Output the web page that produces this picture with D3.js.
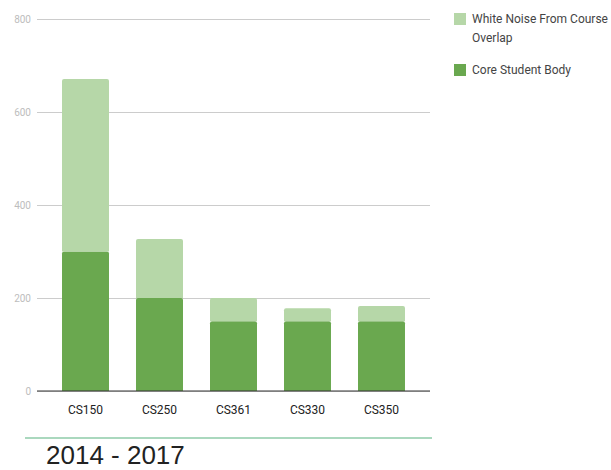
<!DOCTYPE html>
<html>
<head>
<meta charset="utf-8">
<script src="https://cdn.jsdelivr.net/npm/d3@7"></script>
<style>
  body { margin: 0; background: #fff; }
  svg { display: block; }
</style>
</head>
<body>
<div id="chart"></div>
<script>
var WIDTH = 611
var HEIGHT = 470

// data
var courses = ['CS150', 'CS250', 'CS361', 'CS330', 'CS350'];
var coreStudents = [300, 200, 150, 150, 150];
var whiteNoise = [371, 127, 50, 28, 33];
var yTicks = [0, 200, 400, 600, 800];
var seriesNames = ['White Noise From Course Overlap', 'Core Student Body'];
var seriesColors = ['#b6d7a8', '#6aa84f'];

var rows = courses.map((c, i) => ({ course: c, core: coreStudents[i], noise: whiteNoise[i] }));

const svg = d3.select('#chart').append('svg')
    .attr('width', WIDTH)
    .attr('height', HEIGHT);

let x = d3.scaleBand()
    .domain(courses)
    .range([37, 430])
    .paddingInner(0.365)
    .paddingOuter(0.338);

let y = d3.scaleLinear()
    .domain([0, 800])
    .range([391, 19]);

// gridlines + tick labels
var yAxis = svg.append('g')
    .attr('transform', 'translate(37,0)')
    .call(d3.axisLeft(y).tickValues(yTicks).tickSize(-393).tickPadding(6));
yAxis.select('.domain').remove();
yAxis.selectAll('line').attr('stroke', '#cccccc');
yAxis.selectAll('text')
    .attr('fill', '#bdbdbd')
    .style('font-family', 'Roboto')
    .style('font-size', '10px');

// stacked bars
var stack = d3.stack().keys(['core', 'noise'])(rows);
var colorOf = { core: seriesColors[1], noise: seriesColors[0] };

svg.selectAll('g.layer')
    .data(stack)
    .enter()
    .append('g')
    .attr('class', 'layer')
    .attr('fill', d => colorOf[d.key])
    .selectAll('path')
    .data(d => d)
    .enter()
    .append('path')
    .attr('d', d => {
        var x0 = x(d.data.course), w = x.bandwidth();
        var top = y(d[1]), bot = y(d[0]), r = 2;
        return 'M' + x0 + ',' + bot + 'V' + (top + r) + 'Q' + x0 + ',' + top + ' ' + (x0 + r) + ',' + top +
            'H' + (x0 + w - r) + 'Q' + (x0 + w) + ',' + top + ' ' + (x0 + w) + ',' + (top + r) + 'V' + bot + 'Z';
    });

// baseline
svg.append('line')
    .attr('x1', 37).attr('x2', 430)
    .attr('y1', y(0)).attr('y2', y(0))
    .attr('stroke', '#333333')
    .attr('stroke-width', 1);

// category labels
svg.append('g')
    .selectAll('text')
    .data(courses)
    .enter()
    .append('text')
    .attr('x', d => x(d) + x.bandwidth() / 2)
    .attr('y', 414)
    .attr('text-anchor', 'middle')
    .attr('fill', '#222222')
    .style('font-family', 'Roboto')
    .style('font-size', '12px')
    .text(d => d);

// legend
var legend = svg.append('g').attr('transform', 'translate(454,0)');
var legendRows = [
    { name: seriesNames[0], color: seriesColors[0], y: 13, lines: ['White Noise From Course', 'Overlap'] },
    { name: seriesNames[1], color: seriesColors[1], y: 64, lines: ['Core Student Body'] }
];
legendRows.forEach(item => {
    legend.append('rect')
        .attr('x', 0).attr('y', item.y)
        .attr('width', 12).attr('height', 12)
        .attr('fill', item.color);
    item.lines.forEach((t, j) => {
        legend.append('text')
            .attr('x', 18)
            .attr('y', item.y + 10 + j * 19)
            .attr('fill', '#444444')
            .style('font-family', 'Roboto')
            .style('font-size', '12px')
            .text(t);
    });
});

// footer
svg.append('line')
    .attr('x1', 25).attr('x2', 432)
    .attr('y1', 438).attr('y2', 438)
    .attr('stroke', '#8ecba8')
    .attr('stroke-width', 1.5);

svg.append('text')
    .attr('x', 46)
    .attr('y', 464)
    .attr('fill', '#222222')
    .style('font-family', 'Liberation Sans, Arial')
    .style('font-size', '26px')
    .text('2014 - 2017');
</script>
</body>
</html>
